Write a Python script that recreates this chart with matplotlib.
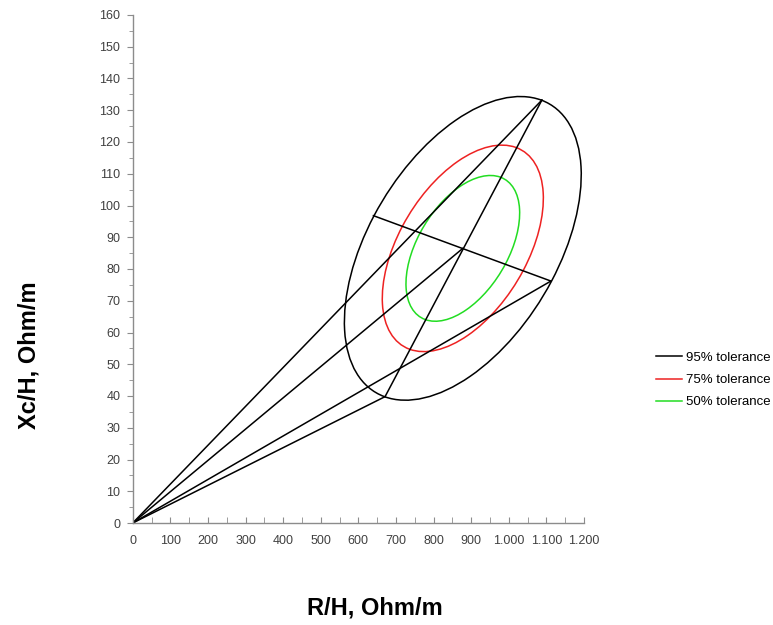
import matplotlib
matplotlib.use("Agg")
import matplotlib.pyplot as plt
from matplotlib.patches import Circle
from matplotlib.lines import Line2D
from matplotlib.transforms import Affine2D
from matplotlib.ticker import MultipleLocator, FuncFormatter

# ends of the two drawn diameters of the 95% ellipse (R/H, Xc/H)
major_top = [1088, 133.2]
major_bottom = [671, 39.8]
minor_left = [640, 96.8]
minor_right = [1112, 76.2]

# size of each tolerance ellipse relative to the 95% one
tol_labels = ['95% tolerance', '75% tolerance', '50% tolerance']
tol_scales = [1.0, 0.68, 0.48]
tol_colors = ['black', '#ee2222', '#22dd22']

x_ticks = [0, 100, 200, 300, 400, 500, 600, 700, 800, 900, 1000, 1100, 1200]
y_ticks = [0, 10, 20, 30, 40, 50, 60, 70, 80, 90, 100, 110, 120, 130, 140,
           150, 160]


def thousands(v, pos):
    # excel style with dot as thousands separator
    return '{:,}'.format(int(v)).replace(',', '.')


def main():
    fig = plt.figure(figsize=(7.73, 6.25), dpi=100)
    ax = fig.add_axes([0.1717, 0.1632, 0.5838, 0.8128])

    cx = (major_top[0] + major_bottom[0] + minor_left[0] + minor_right[0]) / 4
    cy = (major_top[1] + major_bottom[1] + minor_left[1] + minor_right[1]) / 4
    ax_x = (major_top[0] - major_bottom[0]) / 2
    ax_y = (major_top[1] - major_bottom[1]) / 2
    bx_x = (minor_right[0] - minor_left[0]) / 2
    bx_y = (minor_right[1] - minor_left[1]) / 2

    # ellipses as unit circles mapped onto the conjugate diameters
    for s, c in zip(tol_scales, tol_colors):
        m = Affine2D.from_values(ax_x * s, ax_y * s, bx_x * s, bx_y * s,
                                 cx, cy)
        circ = Circle((0, 0), 1, fill=False, edgecolor=c, lw=1.1,
                      transform=m + ax.transData)
        ax.add_patch(circ)

    # diameters
    ax.plot([major_bottom[0], major_top[0]], [major_bottom[1], major_top[1]],
            color='black', lw=1.1)
    ax.plot([minor_left[0], minor_right[0]], [minor_left[1], minor_right[1]],
            color='black', lw=1.1)

    # rays from the origin
    for p in [major_top, [cx, cy], minor_right, major_bottom]:
        ax.plot([0, p[0]], [0, p[1]], color='black', lw=1.1)

    ax.set_xlim(0, 1200)
    ax.set_ylim(0, 160)
    ax.set_xticks(x_ticks)
    ax.set_yticks(y_ticks)
    ax.xaxis.set_minor_locator(MultipleLocator(50))
    ax.yaxis.set_minor_locator(MultipleLocator(5))
    ax.xaxis.set_major_formatter(FuncFormatter(thousands))

    for s in ['top', 'right']:
        ax.spines[s].set_visible(False)
    for s in ['left', 'bottom']:
        ax.spines[s].set_color('#8c8c8c')
        ax.spines[s].set_linewidth(1.0)

    ax.tick_params(axis='x', which='both', direction='in', length=4,
                   color='#8c8c8c', pad=9)
    ax.tick_params(axis='y', which='major', direction='out', length=4,
                   color='#8c8c8c', pad=5)
    ax.tick_params(axis='y', which='minor', direction='out', length=3,
                   color='#8c8c8c')
    for lab in ax.get_xticklabels() + ax.get_yticklabels():
        lab.set_fontfamily('Liberation Sans')
        lab.set_fontsize(9)
        lab.set_color('#404040')

    fig.text(0.037, 0.432, 'Xc/H, Ohm/m', rotation=90, ha='center',
             va='center', fontsize=17, fontweight='bold',
             family='Liberation Sans')
    fig.text(0.485, 0.027, 'R/H, Ohm/m', ha='center', va='center',
             fontsize=17, fontweight='bold', family='Liberation Sans')

    handles = [Line2D([0], [0], color=c, lw=1.1) for c in tol_colors]
    fig.legend(handles, tol_labels, loc='center left',
               bbox_to_anchor=(0.848, 0.392), frameon=False,
               prop={'family': 'Liberation Sans', 'size': 9.5},
               handlelength=2.0, handletextpad=0.3, labelspacing=0.75,
               borderaxespad=0, borderpad=0)

    fig.savefig('out.png', dpi=100)


main()
